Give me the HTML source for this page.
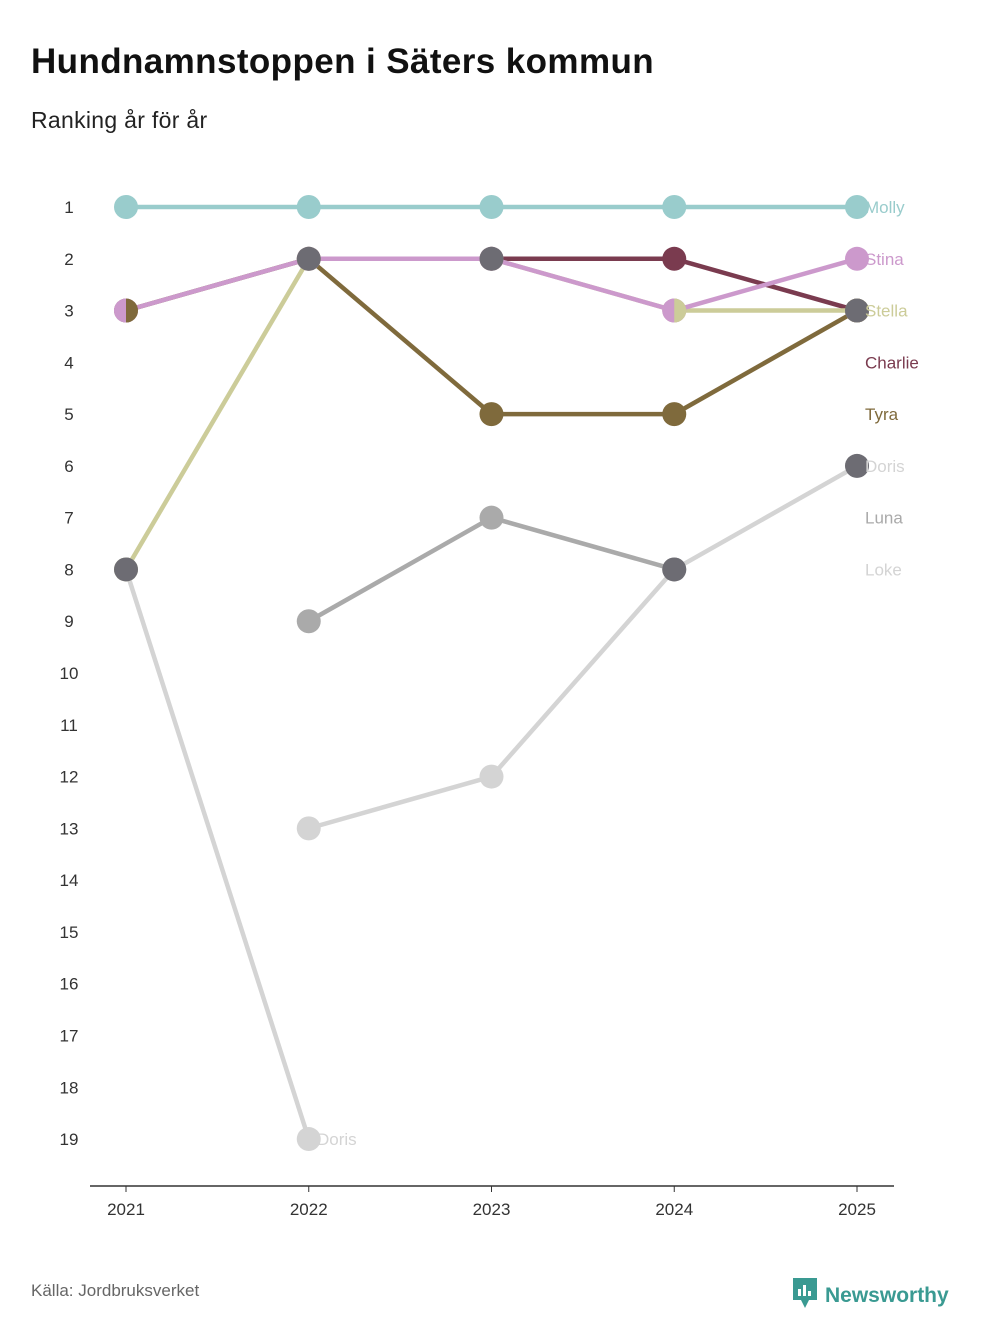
<!DOCTYPE html>
<html><head><meta charset="utf-8"><style>
body{margin:0;background:#fff;font-family:"Liberation Sans",sans-serif;}
#wrap{position:relative;width:982px;height:1340px;}
h1{position:absolute;left:31px;top:42px;margin:0;font-size:35px;letter-spacing:0.4px;font-weight:bold;color:#111;}
.sub{position:absolute;left:31px;top:107px;font-size:23px;letter-spacing:0.3px;color:#222;}
.src{position:absolute;left:31px;top:1281px;font-size:17px;color:#666;}
.logo{position:absolute;left:793px;top:1278px;font-size:21px;font-weight:bold;color:#3a9a92;}
</style></head><body>
<div id="wrap">
<h1>Hundnamnstoppen i Säters kommun</h1>
<div class="sub">Ranking år för år</div>
<svg id="chart" width="982" height="1340" style="position:absolute;left:0;top:0"></svg>
<div class="src">Källa: Jordbruksverket</div>
<div class="logo"><svg width="26" height="30" viewBox="0 0 26 30" style="vertical-align:-6px;margin-right:6px"><path d="M0 0H24V22H16L12 30L8 22H0Z" fill="#3a9a92"/><rect x="5" y="11" width="3" height="7" fill="#fff"/><rect x="10" y="7" width="3" height="11" fill="#fff"/><rect x="15" y="13" width="3" height="5" fill="#fff"/></svg>Newsworthy</div>
</div>
<script>
const years=["2021","2022","2023","2024","2025"];
const rankTicks=[1,2,3,4,5,6,7,8,9,10,11,12,13,14,15,16,17,18,19];
const names=["Loke","Doris","Luna","Molly","Charlie","Tyra","Stella","Stina"];
const colors=["#d4d4d4","#d4d4d4","#aaaaaa","#99cccc","#7a3b4f","#7f6a3c","#cccc99","#cc99cc"];
const loke=[8,19,null,null,null];
const doris=[null,13,12,8,6];
const luna=[null,9,7,8,null];
const molly=[1,1,1,1,1];
const charlie=[null,null,2,2,3];
const tyra=[3,2,5,5,3];
const stella=[8,2,2,3,3];
const stina=[3,2,2,3,2];
const series=[loke,doris,luna,molly,charlie,tyra,stella,stina];
const endLabels=["Molly","Stina","Stella","Charlie","Tyra","Doris","Luna","Loke"];
const endLabelColors=["#99cccc","#cc99cc","#cccc99","#7a3b4f","#7f6a3c","#d4d4d4","#aaaaaa","#d4d4d4"];
const tieYear=[0,1,2,3,4,4];const tieRank=[8,2,2,8,3,6];
const splitYear=[0,3];const splitRank=[3,3];const splitLeft=["#cc99cc","#cc99cc"];const splitRight=["#7f6a3c","#cccc99"];
const xs=i=>126+i*182.75;
const ys=r=>207+(r-1)*51.78;
const svg=document.getElementById('chart');const NS="http://www.w3.org/2000/svg";
function mk(t,a){const e=document.createElementNS(NS,t);for(const k in a)e.setAttribute(k,a[k]);svg.appendChild(e);return e;}
rankTicks.forEach(r=>{const t=mk('text',{x:69,y:ys(r)+6,'text-anchor':'middle','font-size':17,fill:'#333'});t.textContent=r;

});
const ax=mk('line',{x1:90,x2:894,y1:1186,y2:1186,stroke:'#333','stroke-width':1.5});


years.forEach((y,i)=>{mk('line',{x1:xs(i),x2:xs(i),y1:1186,y2:1192,stroke:'#333'});const t=mk('text',{x:xs(i),y:1215,'text-anchor':'middle','font-size':17,fill:'#333'});t.textContent=y;

});
series.forEach((s,k)=>{for(let i=0;i<4;i++){if(s[i]!=null&&s[i+1]!=null){const l=mk('line',{x1:xs(i),y1:ys(s[i]),x2:xs(i+1),y2:ys(s[i+1]),stroke:colors[k],'stroke-width':4.5});

}}});
series.forEach((s,k)=>{s.forEach((v,i)=>{if(v==null)return;const c=mk('circle',{cx:xs(i),cy:ys(v),r:12,fill:colors[k]});

});});
splitYear.forEach((yi,j)=>{const x=xs(yi),y=ys(splitRank[j]);
mk('path',{d:`M${x} ${y-12}A12 12 0 0 0 ${x} ${y+12}Z`,fill:splitLeft[j]});
const p=mk('path',{d:`M${x} ${y-12}A12 12 0 0 1 ${x} ${y+12}Z`,fill:splitRight[j]});

});
tieYear.forEach((yi,j)=>{const c=mk('circle',{cx:xs(yi),cy:ys(tieRank[j]),r:12,fill:'#6d6c73'});

});
endLabels.forEach((n,i)=>{const t=mk('text',{x:865,y:ys(i+1)+6,'font-size':17,fill:endLabelColors[i]});t.textContent=n;

});
const dl=mk('text',{x:317,y:ys(19)+6,'font-size':17,fill:'#d4d4d4'});dl.textContent="Doris";


</script>
</body></html>
